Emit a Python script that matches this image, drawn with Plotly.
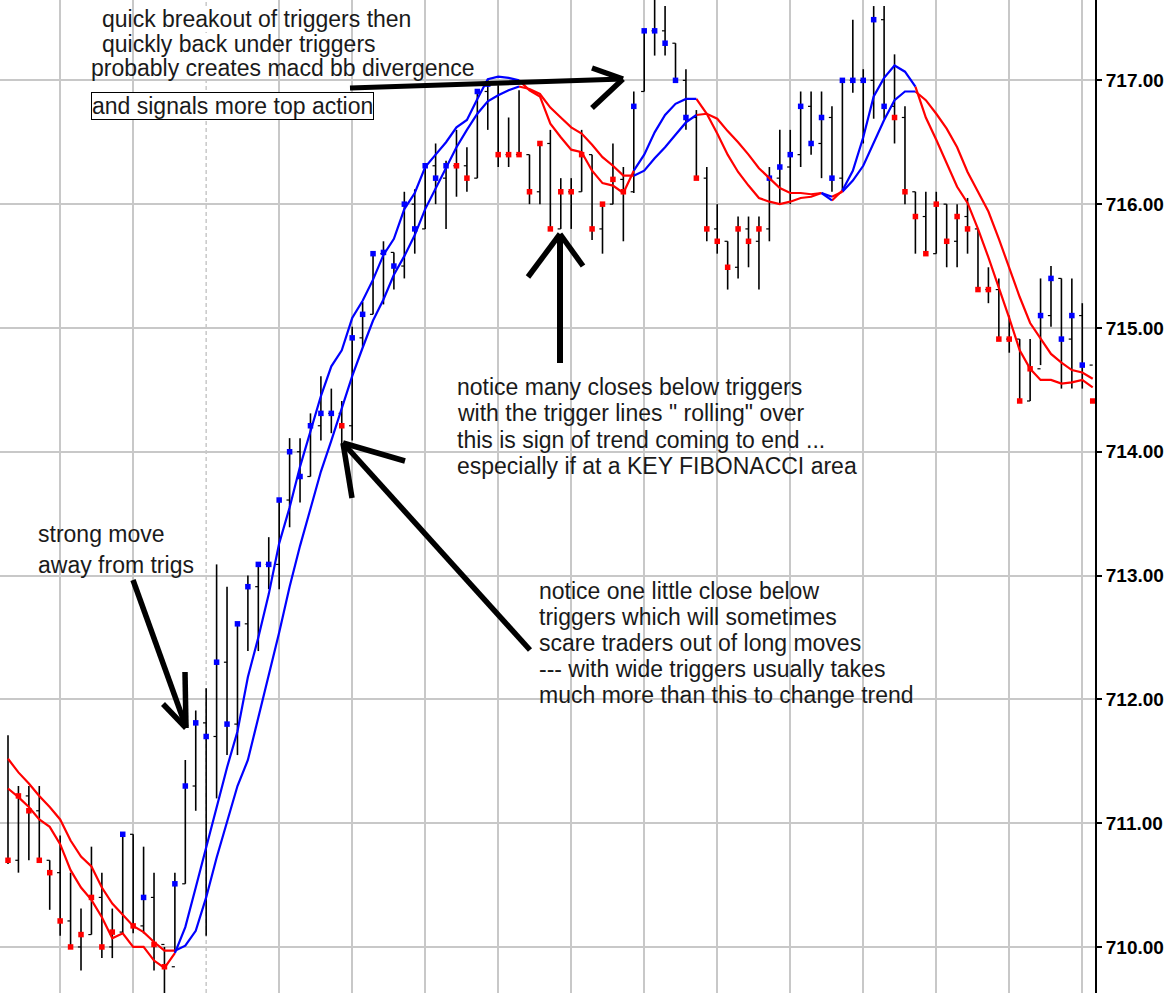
import plotly.graph_objects as go

# ---------------- data ----------------
highs = [711.71, 711.30, 711.30, 711.30, 710.70, 710.90, 710.60, 710.31, 710.81, 710.60,
         710.31, 710.91, 710.91, 710.81, 710.60, 710.00, 710.60, 711.51, 711.91, 712.09,
         713.09, 712.91, 712.62, 713.00, 713.09, 713.31, 713.61, 714.11, 714.11, 714.31,
         714.61, 714.51, 714.41, 715.01, 715.21, 715.60, 715.70, 715.61, 716.10, 716.12,
         716.31, 716.49, 716.35, 716.60, 716.46, 716.91, 717.01, 716.96, 716.70, 716.92,
         716.40, 716.49, 716.60, 716.21, 716.21, 716.60, 716.40, 716.00, 716.49, 716.30,
         716.91, 717.40, 717.70, 717.60, 717.30, 717.09, 716.76, 716.30, 716.00, 715.70,
         715.90, 715.90, 715.90, 716.30, 716.60, 716.60, 716.91, 716.91, 716.91, 716.79,
         717.00, 717.49, 717.09, 717.60, 717.60, 717.21, 716.79, 716.10, 716.10, 716.10,
         716.00, 716.00, 716.05, 715.80, 715.49, 715.40, 715.10, 714.91, 714.91, 715.40,
         715.50, 715.40, 715.40, 715.20, 714.41]
lows = [710.67, 710.60, 710.70, 710.70, 710.30, 710.09, 710.00, 709.81, 710.10, 709.91,
        709.91, 710.11, 710.11, 710.11, 709.81, 709.62, 709.96, 710.51, 711.10, 710.09,
        711.20, 711.55, 711.55, 712.39, 712.39, 712.89, 712.89, 713.39, 713.59, 713.80,
        714.09, 714.15, 714.04, 714.09, 714.85, 715.11, 715.19, 715.31, 715.40, 715.60,
        715.80, 716.00, 715.80, 716.06, 716.10, 716.21, 716.60, 716.30, 716.30, 716.40,
        716.00, 716.00, 715.80, 715.80, 715.80, 716.10, 715.71, 715.60, 716.00, 715.70,
        716.09, 716.91, 717.20, 717.20, 716.99, 716.60, 716.21, 715.70, 715.60, 715.31,
        715.40, 715.49, 715.31, 715.70, 716.00, 716.00, 716.30, 716.40, 716.21, 716.10,
        716.10, 716.90, 716.49, 716.69, 716.69, 716.49, 716.00, 715.60, 715.60, 715.60,
        715.49, 715.49, 715.60, 715.31, 715.20, 714.91, 714.80, 714.41, 714.41, 714.70,
        715.01, 714.51, 714.51, 714.51, 714.41]
closes = [710.70, 711.22, 711.10, 710.70, 710.60, 710.21, 710.00, 710.10, 710.40, 710.00,
          710.12, 710.91, 710.17, 710.40, 710.02, 709.84, 710.51, 711.30, 711.81, 711.70,
          712.30, 711.80, 712.61, 712.91, 713.09, 713.09, 713.61, 714.00, 713.80, 714.21,
          714.31, 714.31, 714.21, 714.92, 715.11, 715.60, 715.61, 715.50, 716.00, 715.80,
          716.31, 716.21, 716.31, 716.31, 716.21, 716.91, 716.97, 716.40, 716.40, 716.40,
          716.10, 716.49, 715.80, 716.10, 716.10, 716.40, 715.80, 716.00, 716.20, 716.10,
          716.79, 717.40, 717.40, 717.30, 717.00, 716.70, 716.21, 715.80, 715.70, 715.49,
          715.80, 715.70, 715.80, 716.21, 716.30, 716.40, 716.79, 716.49, 716.70, 716.21,
          717.00, 717.00, 717.00, 717.49, 716.79, 716.70, 716.10, 715.90, 715.60, 716.00,
          715.70, 715.90, 715.80, 715.31, 715.31, 714.91, 714.91, 714.41, 714.67, 715.10,
          715.40, 714.91, 715.10, 714.70, 714.41]
opens = [711.30, 710.70, 711.22, 711.10, 710.70, 710.60, 710.21, 710.00, 710.10, 710.40,
         710.00, 710.12, 710.91, 710.17, 710.40, 710.02, 709.84, 710.51, 711.30, 711.81,
         711.70, 712.30, 711.80, 712.61, 712.91, 713.09, 713.09, 713.61, 714.00, 713.80,
         714.21, 714.31, 714.31, 714.21, 714.92, 715.11, 715.60, 715.61, 715.50, 716.00,
         715.80, 716.31, 716.21, 716.31, 716.31, 716.21, 716.91, 716.97, 716.40, 716.40,
         716.40, 716.10, 716.49, 715.80, 716.10, 716.10, 716.40, 715.80, 716.00, 716.20,
         716.10, 716.91, 717.40, 717.40, 717.30, 717.00, 716.70, 716.21, 715.80, 715.70,
         715.49, 715.80, 715.70, 715.80, 716.21, 716.30, 716.40, 716.79, 716.49, 716.70,
         716.21, 717.00, 717.00, 717.00, 717.49, 716.79, 716.70, 716.10, 715.90, 715.60,
         716.00, 715.70, 715.90, 715.80, 715.31, 715.31, 714.91, 714.91, 714.41, 714.67,
         715.10, 715.40, 714.91, 715.10, 714.70]
close_colors = (["r"] * 11 + ["b", "r", "b", "r", "r", "b", "b", "b", "b",
                 "b", "b", "b", "b", "b", "b", "b", "b", "b", "b",
                 "b", "b", "r", "b", "b", "b", "b", "b", "b", "b",
                 "b", "b", "b", "r", "r", "b", "b", "r", "r", "r"]
                + ["r"] * 10 + ["b"] * 6 + ["r"] * 7 + ["b"] * 12 + ["r"] * 14
                + ["b"] * 5 + ["r"])

fast_trig = [711.28, 711.21, 711.13, 711.03, 710.97, 710.83, 710.62, 710.48, 710.38, 710.24,
             710.07, 710.11, 710.00, 710.00, 709.89, 709.83, 709.95, 710.16, 710.48, 710.81,
             711.13, 711.45, 711.74, 712.18, 712.50, 712.85, 713.26, 713.55, 713.88, 714.17,
             714.45, 714.69, 714.82, 715.08, 715.22, 715.39, 715.59, 715.72, 715.96, 716.09,
             716.30, 716.40, 716.50, 716.62, 716.68, 716.85, 717.01, 717.03, 717.02, 717.00,
             716.92, 716.87, 716.65, 716.54, 716.44, 716.42, 716.27, 716.17, 716.15, 716.09,
             716.27, 716.40, 716.58, 716.72, 716.81, 716.85, 716.85, 716.73, 716.57, 716.40,
             716.26, 716.15, 716.05, 716.02, 716.00, 716.02, 716.05, 716.06, 716.09, 716.03,
             716.11, 716.27, 716.54, 716.87, 717.02, 717.12, 717.07, 716.95, 716.70, 716.52,
             716.33, 716.14, 716.01, 715.80, 715.57, 715.33, 715.08, 714.82, 714.67, 714.58,
             714.58, 714.55, 714.56, 714.58, 714.52]
slow_trig = [711.52, 711.41, 711.32, 711.22, 711.13, 711.03, 710.86, 710.73, 710.65, 710.48,
             710.35, 710.26, 710.17, 710.12, 710.04, 709.97, 709.97, 710.01, 710.13, 710.40,
             710.72, 711.02, 711.30, 711.51, 711.85, 712.19, 712.54, 712.91, 713.24, 713.54,
             713.84, 714.09, 714.36, 714.61, 714.84, 715.06, 715.23, 715.43, 715.58, 715.75,
             715.96, 716.13, 716.30, 716.46, 716.60, 716.73, 716.83, 716.88, 716.92, 716.95,
             716.93, 716.89, 716.78, 716.70, 716.62, 716.57, 716.48, 716.38, 716.31, 716.23,
             716.23, 716.27, 716.37, 716.46, 716.56, 716.66, 716.72, 716.73, 716.69, 716.59,
             716.50, 716.40, 716.29, 716.21, 716.13, 716.09, 716.09, 716.08, 716.09, 716.06,
             716.10, 716.19, 716.31, 716.49, 716.68, 716.84, 716.91, 716.91, 716.84, 716.73,
             716.61, 716.46, 716.26, 716.10, 715.94, 715.72, 715.48, 715.25, 715.04, 714.92,
             714.79, 714.72, 714.66, 714.64, 714.59]
# colour of the trigger segment that ends at each bar
trig_colors = (["r"] * 17 + ["b"] * 33 + ["r"] * 11 + ["b"] * 6 + ["r"] * 12
               + ["b", "r"] + ["b"] * 7 + ["r"] * 17)

y_ticks = [710, 711, 712, 713, 714, 715, 716, 717]
grid_bars = [5, 12, 26, 33, 40, 47, 54, 61, 68, 75, 82, 89, 96, 103]
dashed_grid_bar = 19

COL = {"r": "#ff0000", "b": "#0000ff"}
n = len(closes)

fig = go.Figure()

# high-low bars
bx, by = [], []
for i in range(n):
    bx += [i, i, None]
    by += [lows[i], highs[i], None]
fig.add_trace(go.Scatter(x=bx, y=by, mode="lines", line=dict(color="black", width=1.6),
                         hoverinfo="skip", showlegend=False))
# open ticks
ox, oy = [], []
for i in range(1, n):
    ox += [i - 0.3, i, None]
    oy += [opens[i], opens[i], None]
fig.add_trace(go.Scatter(x=ox, y=oy, mode="lines", line=dict(color="black", width=1.2),
                         hoverinfo="skip", showlegend=False))
# close squares
fig.add_trace(go.Scatter(x=list(range(n)), y=closes, mode="markers",
                         marker=dict(symbol="square", size=5.5,
                                     color=[COL[c] for c in close_colors], line=dict(width=0)),
                         showlegend=False))


def add_trigger(vals):
    for key in ("r", "b"):
        xs, ys = [], []
        i = 1
        while i < n:
            if trig_colors[i] == key:
                start = i - 1
                while i < n and trig_colors[i] == key:
                    i += 1
                for k in range(start, i):
                    xs.append(k)
                    ys.append(vals[k])
                xs.append(None)
                ys.append(None)
            else:
                i += 1
        fig.add_trace(go.Scatter(x=xs, y=ys, mode="lines",
                                 line=dict(color=COL[key], width=2.2),
                                 hoverinfo="skip", showlegend=False))


add_trigger(slow_trig)
add_trigger(fast_trig)

# ---------------- layout ----------------
W, H = 1167, 993
PW = 1095  # plot width in px


def px(x):
    return x / PW


def py(y):
    return 1 - y / H


def seg(x0, y0, x1, y1, w=5.5):
    return dict(type="line", xref="paper", yref="paper", x0=px(x0), y0=py(y0),
                x1=px(x1), y1=py(y1), line=dict(color="black", width=w), layer="above")


FONT = "Liberation Sans, Arial, sans-serif"
# text, left px, centre px, right px (extent of the white backing)
texts = [
    ("quick breakout of triggers then", 99.5, 19, 413),
    ("quickly back under triggers", 99.5, 44, 378),
    ("probably creates macd bb divergence", 88.5, 68, 479),
    ("notice many closes below triggers", 454.5, 387, 805),
    ("with the trigger lines \" rolling\" over", 454.5, 413, 803),
    ("this is sign of trend coming to end ...", 454.5, 440, 824),
    ("especially if at a KEY FIBONACCI area", 454.5, 466, 868),
    ("strong move", 36, 534, 165),
    ("away from trigs", 36, 565, 196),
    ("notice one little close below", 537, 591, 821),
    ("triggers which will sometimes", 537, 617, 839),
    ("scare traders out of long moves", 537, 643, 863),
    ("--- with wide triggers usually takes", 537, 669, 885),
    ("much more than this to change trend", 537, 695, 912),
]

shapes = [
    dict(type="line", xref="x", yref="paper", x0=dashed_grid_bar, x1=dashed_grid_bar,
         y0=0, y1=1, line=dict(color="#c8c8c8", width=1.5, dash="4px,3px"), layer="below"),
]
for t, x, y, xr in texts:
    shapes.append(dict(type="rect", xref="paper", yref="paper", x0=px(x + 1), x1=px(xr),
                       y0=py(y + 13), y1=py(y - 11), fillcolor="white",
                       line=dict(width=0), layer="between"))
shapes += [
    # horizontal arrow
    seg(350, 88, 623, 79, 5), seg(592, 68, 623, 79), seg(592, 108, 623, 79),
    # vertical arrow
    seg(560, 363, 560, 236, 6), seg(528, 277, 560, 234), seg(583, 266, 560, 234),
    # long diagonal arrow
    seg(530, 650, 343, 443, 5.5), seg(343, 443, 405, 461), seg(343, 443, 352, 498),
    # strong move arrow
    seg(133, 580, 186, 727, 5.5), seg(163, 704, 186, 728), seg(185, 672, 186, 728),
]

annotations = []
for t, x, y, xr in texts:
    annotations.append(dict(text=t, x=px(x), y=py(y), xref="paper", yref="paper",
                            xanchor="left", yanchor="middle", showarrow=False,
                            font=dict(family=FONT, size=23, color="#1a1a1a")))
annotations.append(dict(text="and signals more top action", x=px(90.5), y=py(106.3),
                        xref="paper", yref="paper", xanchor="left", yanchor="middle",
                        showarrow=False, font=dict(family=FONT, size=23, color="#1a1a1a"),
                        bgcolor="white", bordercolor="black", borderwidth=1, borderpad=0))

fig.update_layout(
    width=W, height=H, autosize=False,
    margin=dict(l=0, r=W - PW, t=0, b=0, pad=0),
    paper_bgcolor="white", plot_bgcolor="white",
    showlegend=False,
    shapes=shapes, annotations=annotations,
    xaxis=dict(range=[-0.767, 104.22], tickvals=grid_bars, showticklabels=False,
               ticks="", showgrid=True, gridcolor="#c8c8c8", gridwidth=1.5,
               zeroline=False, showline=False, fixedrange=True),
    yaxis=dict(range=[709.628, 717.649], side="right", tickvals=y_ticks,
               tickformat=".2f", ticks="outside", ticklen=5, tickwidth=1.5,
               tickcolor="black", showline=True, linecolor="black", linewidth=2,
               showgrid=True, gridcolor="#c8c8c8", gridwidth=1.5, zeroline=False,
               tickfont=dict(family=FONT, size=19, color="black", weight="bold"),
               fixedrange=True),
)

fig.write_html("out.html", config={"displayModeBar": False},
               post_script="document.body.style.margin='0';document.body.style.overflow='hidden';")
